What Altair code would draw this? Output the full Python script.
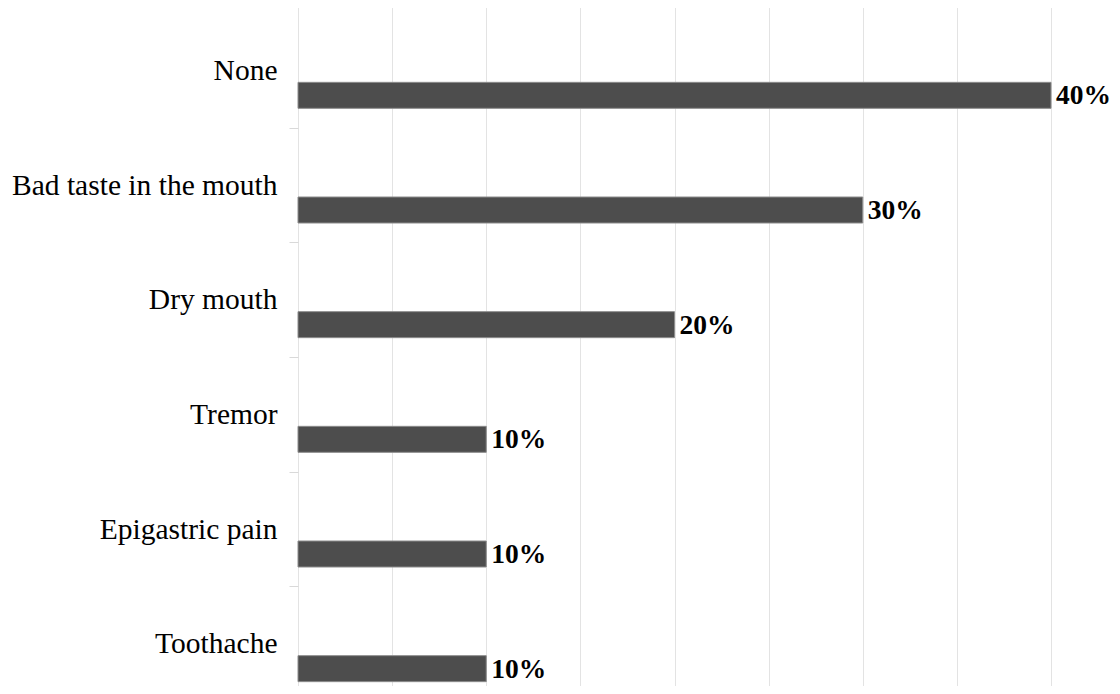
import altair as alt
import pandas as pd

categories = ["None", "Bad taste in the mouth", "Dry mouth", "Tremor", "Epigastric pain", "Toothache"]
values = [40, 30, 20, 10, 10, 10]
grid_ticks = [0, 5, 10, 15, 20, 25, 30, 35, 40]

df = pd.DataFrame({"category": categories, "value": values})

FONT = "Liberation Serif"
BAND = 688 / len(categories)

y_enc = alt.Y(
    "category:N",
    sort=categories,
    title=None,
    scale=alt.Scale(range=[0, 688], paddingInner=0, paddingOuter=0),
    axis=alt.Axis(
        tickSize=9,
        tickColor="#d9d9d9",
        tickOffset=BAND / 2,
        labelOffset=-BAND / 2,
        domain=False,
        labelPadding=12,
        labelFont=FONT,
        labelFontSize=29.5,
        labelColor="#000000",
        labelLimit=400,
        grid=False,
    ),
)

x_enc = alt.X(
    "value:Q",
    title=None,
    scale=alt.Scale(domain=[0, 40], nice=False),
    axis=alt.Axis(
        values=grid_ticks,
        labels=False,
        ticks=False,
        domain=False,
        grid=True,
        gridColor="#e3e3e3",
        gridWidth=1,
    ),
)

base = alt.Chart(df)

bars = base.mark_bar(
    size=26,
    yOffset=25,
    color="#4d4d4d",
    stroke="#8c8c8c",
    strokeWidth=1,
).encode(x=x_enc, y=y_enc)

text = base.transform_calculate(
    label="datum.value + '%'"
).mark_text(
    align="left",
    baseline="middle",
    dx=5,
    yOffset=26,
    font=FONT,
    fontSize=27.5,
    fontWeight="bold",
    color="#000000",
).encode(x=alt.X("value:Q"), y=alt.Y("category:N", sort=categories), text="label:N")

chart = (
    alt.layer(bars, text)
    .properties(
        width=753,
        height=673,
        padding={"left": 290, "top": 5, "right": 61, "bottom": 0},
        autosize=alt.AutoSizeParams(type="none"),
    )
    .configure_view(stroke=None)
)

chart.save("out.html", embed_options={"renderer": "svg", "actions": False})
